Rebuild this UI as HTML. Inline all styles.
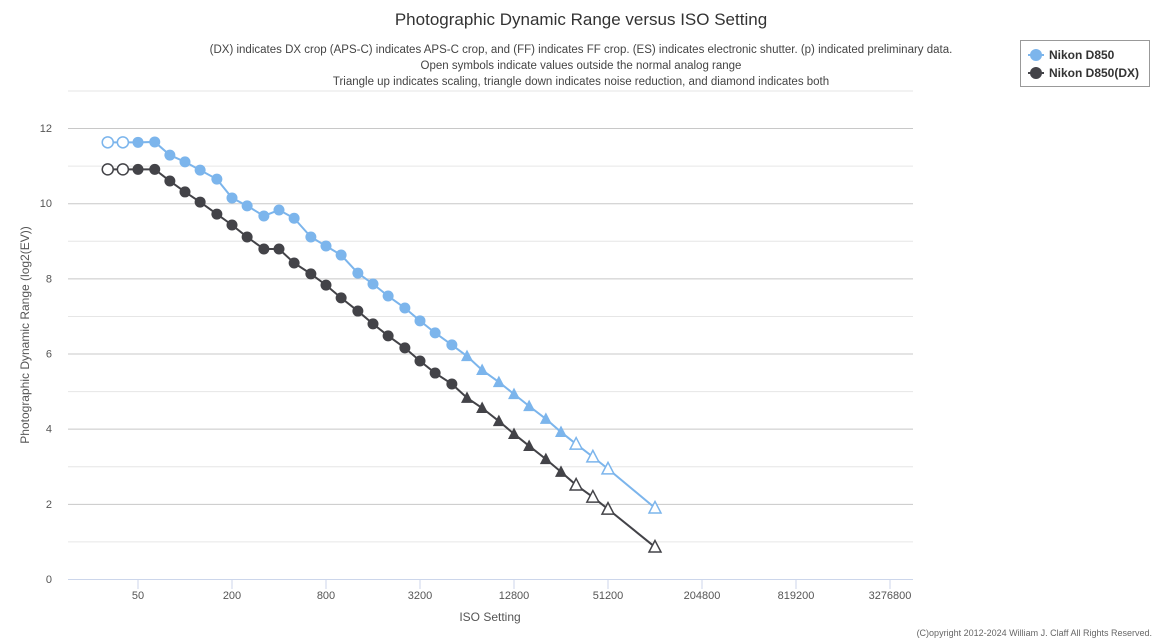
<!DOCTYPE html>
<html><head><meta charset="utf-8"><style>
body{margin:0;background:#fff;font-family:"Liberation Sans",sans-serif;}
svg{display:block}
</style></head><body>
<svg id="c" width="1162" height="642">
<text x="581" y="25" text-anchor="middle" font-size="17" fill="#333">Photographic Dynamic Range versus ISO Setting</text>
<g font-size="11.5" fill="#444" text-anchor="middle">
<text x="581" y="53">(DX) indicates DX crop (APS-C) indicates APS-C crop, and (FF) indicates FF crop. (ES) indicates electronic shutter. (p) indicated preliminary data.</text>
<text x="581" y="69">Open symbols indicate values outside the normal analog range</text>
<text x="581" y="85">Triangle up indicates scaling, triangle down indicates noise reduction, and diamond indicates both</text>
</g>
<g id="grid"></g><g id="axes"></g><g id="series"></g>
<text x="0" y="0" transform="translate(29,335) rotate(-90)" text-anchor="middle" font-size="12" fill="#555">Photographic Dynamic Range (log2(EV))</text>
<text x="490" y="621" text-anchor="middle" font-size="12" fill="#555">ISO Setting</text>
<g>
<rect x="1020.5" y="40.5" width="129" height="46" fill="#fff" stroke="#999"/>
<g><line x1="1028" y1="55" x2="1044" y2="55" stroke="#7cb5ec" stroke-width="2"/><circle cx="1036" cy="55" r="6" fill="#7cb5ec"/><text x="1049" y="59" font-size="12" font-weight="bold" fill="#333">Nikon D850</text></g>
<g><line x1="1028" y1="73" x2="1044" y2="73" stroke="#434348" stroke-width="2"/><circle cx="1036" cy="73" r="6" fill="#434348"/><text x="1049" y="77" font-size="12" font-weight="bold" fill="#333">Nikon D850(DX)</text></g>
</g>
<text x="1152" y="636" text-anchor="end" font-size="9" fill="#666">(C)opyright 2012-2024 William J. Claff All Rights Reserved.</text>
</svg>
<script>
const isoValues=[32,40,50,64,80,100,125,160,200,250,320,400,500,640,800,1000,1280,1600,2000,2560,3200,4000,5120,6400,8000,10240,12800,16000,20480,25600,32000,40960,51200,102400];
const d850=[11.62,11.62,11.62,11.63,11.28,11.1,10.88,10.64,10.14,9.93,9.66,9.82,9.6,9.1,8.86,8.62,8.14,7.85,7.53,7.21,6.87,6.55,6.23,5.93,5.56,5.24,4.92,4.6,4.26,3.91,3.59,3.25,2.93,1.89];
const d850dx=[10.9,10.9,10.9,10.9,10.59,10.3,10.03,9.71,9.42,9.1,8.78,8.78,8.41,8.12,7.82,7.48,7.13,6.79,6.47,6.15,5.8,5.48,5.19,4.82,4.55,4.2,3.86,3.54,3.19,2.85,2.5,2.18,1.86,0.85];
// marker: o=open circle, c=filled circle, t=filled triangle, T=open triangle
const markersD850="oooccccccccccccccccccccctttttttTTTT".slice(1).split("");
const markersDx="oooccccccccccccccccccccctttttttTTTT".slice(1).split("");
const xTicks=[50,200,800,3200,12800,51200,204800,819200,3276800];
const yTicks=[0,2,4,6,8,10,12];
const NS="http://www.w3.org/2000/svg";
const X=v=>138+47*Math.log2(v/50);
const Y=v=>579-37.58*v;
function mk(t,a,p){const e=document.createElementNS(NS,t);for(const k in a)e.setAttribute(k,a[k]);p.appendChild(e);return e;}
const grid=document.getElementById('grid'),axes=document.getElementById('axes'),ser=document.getElementById('series');
for(let v=1;v<=13;v++){const l=mk('line',{x1:68,x2:913,y1:Y(v)+0.5,y2:Y(v)+0.5,stroke:v%2?'#e6e6e6':'#c8c8c8'},grid);

}
mk('line',{x1:68,x2:913,y1:579.5,y2:579.5,stroke:'#ccd6eb'},axes);
yTicks.forEach(v=>{const t=mk('text',{x:52,y:Y(v)+4,'text-anchor':'end','font-size':11,fill:'#555'},axes);t.textContent=v;

});
xTicks.forEach(v=>{const x=X(v);mk('line',{x1:x,x2:x,y1:579,y2:589,stroke:'#ccd6eb'},axes);
const t=mk('text',{x:x,y:599,'text-anchor':'middle','font-size':11,fill:'#555'},axes);t.textContent=v;

});
function drawSeries(vals,marks,color,name){
const g=mk('g',{},ser);


mk('polyline',{points:vals.map((v,i)=>X(isoValues[i])+','+Y(v)).join(' '),fill:'none',stroke:color,'stroke-width':2},g);
vals.forEach((v,i)=>{const x=X(isoValues[i]),y=Y(v),m=marks[i];let e;
if(m==='o'||m==='c')e=mk('circle',{cx:x,cy:y,r:5.5,fill:m==='o'?'#fff':color,stroke:color,'stroke-width':m==='o'?1.5:0},g);
else e=mk('polygon',{points:`${x},${y-6.5} ${x+6},${y+5} ${x-6},${y+5}`,fill:m==='T'?'#fff':color,stroke:color,'stroke-width':m==='T'?1.5:0},g);

});}
drawSeries(d850,markersD850,'#7cb5ec','series-d850');
drawSeries(d850dx,markersDx,'#434348','series-d850-dx');
</script>
</body></html>
